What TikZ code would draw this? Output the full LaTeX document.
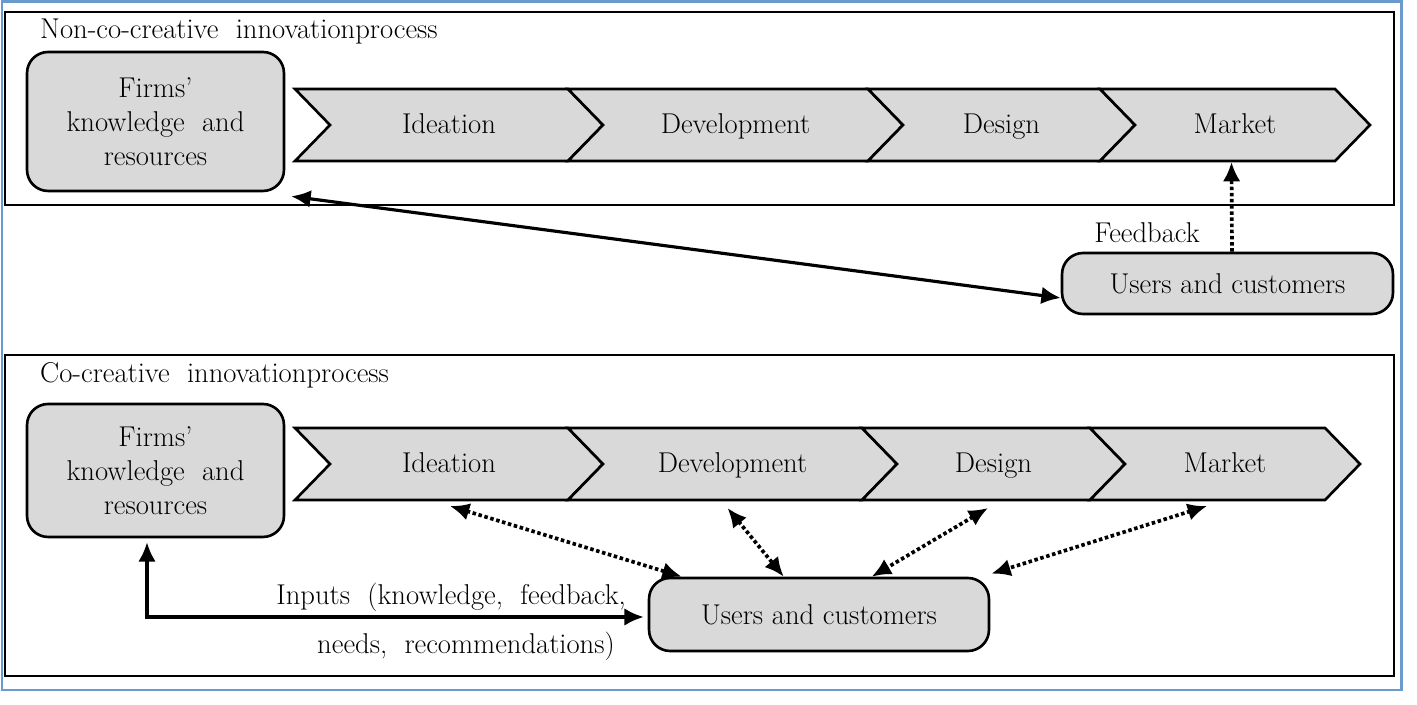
\documentclass[tikz,border=0pt]{standalone}
\usepackage{tikz}
\usetikzlibrary{arrows.meta,calc}
\definecolor{boxgray}{RGB}{217,217,217}
\definecolor{frameblue}{RGB}{105,155,205}

\begin{document}
\begin{tikzpicture}[x=0.02cm,y=-0.02cm,
    font=\fontsize{16.3}{19.3}\selectfont,
    >={Latex[length=11pt,width=10pt]},
    rbox/.style={draw,line width=1.5pt,fill=boxgray,rounded corners=12pt,align=center,inner sep=0pt},
    chev/.style={draw,line width=1.5pt,fill=boxgray},
    chevtext/.style={text height=12pt,text depth=2pt,inner sep=0pt},
    frame/.style={draw,line width=1.5pt},
    conn/.style={line width=1.8pt},
    dotconn/.style={line width=2.1pt,dash pattern=on 2pt off 1.5pt}]
    \useasboundingbox (0,0) rectangle (1417,705);
    \draw[frameblue,line width=1.7pt] (2,2) rectangle (1401,690);
    % non-co-creative process
    \draw[frame] (5,12) rectangle (1394,205);
    \node[anchor=west] (titleA) at (34,32) {Non-co-creative\ \ innovationprocess};
    \node[rbox,minimum width=5.14cm,minimum height=2.78cm] (firmsA) at (155.5,121.5) {Firms'\\knowledge\ \ and\\resources};
    \foreach \a/\b/\t/\n in {295/568/Ideation/ideaA,568/868/Development/devA,868/1100/Design/desA,1100/1335/Market/mktA}{
      \draw[chev] (\a,89) -- (\b,89) -- (\b+35,125) -- (\b,161) -- (\a,161) -- (\a+35,125) -- cycle;
      \node[chevtext] (\n) at ({(\a+\b+35)/2},125) {\t};
    }
    \node[rbox,minimum width=6.62cm,minimum height=1.22cm] (usersA) at (1227.5,283.5) {Users and customers};
    \node (fbLabel) at (1147,233) {Feedback};
    \draw[dotconn,->] ($(usersA.north)+(4.5,0)$) -- ($(mktA)+(-3.5,37)$);
    \draw[conn,<->] ($(firmsA.south east)+(6,4)$) -- ($(usersA.west)+(0,14.5)$);
    % co-creative process
    \draw[frame] (5,355) rectangle (1394,676);
    \node[anchor=west] (titleB) at (34,375) {Co-creative\ \ innovationprocess};
    \node[rbox,minimum width=5.14cm,minimum height=2.66cm] (firmsB) at (155.5,470.5) {Firms'\\knowledge\ \ and\\resources};
    \foreach \a/\b/\t/\n in {295/568/Ideation/ideaB,568/862/Development/devB,862/1090/Design/desB,1090/1325/Market/mktB}{
      \draw[chev] (\a,428) -- (\b,428) -- (\b+35,464) -- (\b,500) -- (\a,500) -- (\a+35,464) -- cycle;
      \node[chevtext] (\n) at ({(\a+\b+35)/2},464) {\t};
    }
    \node[rbox,minimum width=6.8cm,minimum height=1.46cm] (usersB) at (819,614.5) {Users and customers};
    \node[anchor=east] (inputA) at (632,597) {Inputs\ \ (knowledge,\ \ feedback,};
    \node[anchor=east] (inputB) at (621,646) {needs,\ \ recommendations)};
    \draw[conn,<->] ($(firmsB.south)+(-8.5,4)$) |- ($(usersB.west)+(-4,2.5)$);
    \draw[dotconn,<->] ($(ideaB)+(1,42)$) -- ($(usersB.north west)+(34,0)$);
    \draw[dotconn,<->] ($(devB)+(-5,44)$) -- ($(usersB.north west)+(136,0)$);
    \draw[dotconn,<->] ($(desB)+(-5.5,44)$) -- ($(usersB.north west)+(224,0)$);
    \draw[dotconn,<->] ($(mktB)+(-18,42)$) -- ($(usersB.north east)+(1,-3)$);
\end{tikzpicture}
\end{document}
